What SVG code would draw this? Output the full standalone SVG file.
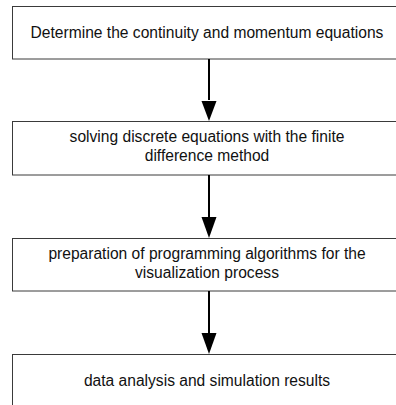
<svg xmlns="http://www.w3.org/2000/svg" width="396" height="405" viewBox="0 0 396 405">
<defs>
<style>
.box{fill:#fff;stroke:#3a3a3a;stroke-width:1}
.t{font-family:"Liberation Sans",Arial,sans-serif;font-size:15.6px;fill:#111;text-anchor:middle}
.c{stroke:#000;stroke-width:2;fill:none}
</style>
</defs>
<rect width="396" height="405" fill="#fff"/>
<g id="n1"><rect class="box" x="12.5" y="6.5" width="396" height="52.5"/><text class="t" x="207" y="37.5">Determine the continuity and momentum equations</text></g>
<g id="n2"><rect class="box" x="12.5" y="121.5" width="396" height="53.5"/><text class="t" x="207" y="142">solving discrete equations with the finite</text><text class="t" x="207" y="161">difference method</text></g>
<g id="n3"><rect class="box" x="12.5" y="238.5" width="396" height="52.5"/><text class="t" x="207" y="259">preparation of programming algorithms for the</text><text class="t" x="207" y="278">visualization process</text></g>
<g id="n4"><rect class="box" x="12.5" y="354.5" width="396" height="60"/><text class="t" x="207" y="386">data analysis and simulation results</text></g>
<g id="connectors">
<path d="M209,59 V100" class="c"/><path d="M201.5,101 L216.5,101 L209,121 Z" fill="#000"/>
<path d="M209,175 V217" class="c"/><path d="M201.5,217 L216.5,217 L209,238 Z" fill="#000"/>
<path d="M209,291 V333" class="c"/><path d="M201.5,333 L216.5,333 L209,354 Z" fill="#000"/>
</g>
</svg>
